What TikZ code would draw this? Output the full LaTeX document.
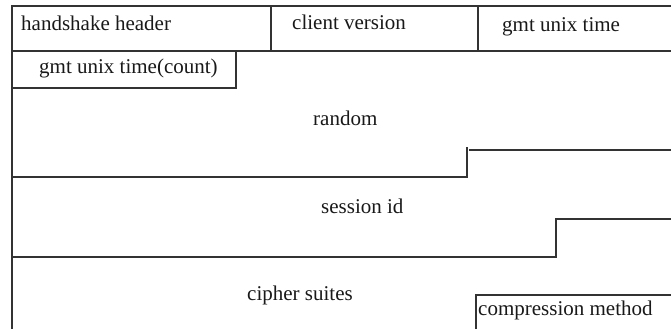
\documentclass[tikz,border=0pt]{standalone}
\usepackage{fontspec}
\setmainfont{Liberation Serif}
\begin{document}
\begin{tikzpicture}[x=1pt,y=-1pt,
  rule/.style={line width=1.3pt,draw=black!80},
  lbl/.style={anchor=base west,inner sep=0pt,font=\fontsize{21}{24}\selectfont,text=black!90}]
\useasboundingbox[fill=white] (0,0) rectangle (671,329);
% frame lines
\draw[rule] (671,6) -- (12,6) -- (12,329);
\draw[rule] (12,51) -- (671,51);
\draw[rule] (271,6) -- (271,51);
\draw[rule] (478,6) -- (478,51);
\draw[rule] (236,51) -- (236,88) -- (12,88);
\draw[rule] (12,177) -- (467,177) -- (467,147);
\draw[rule] (469,150) -- (671,150);
\draw[rule] (12,257) -- (556,257) -- (556,219) -- (671,219);
\draw[rule] (476,329) -- (476,295) -- (671,295);
% labels
\node[lbl] (hh) at (21,31) {handshake header};
\node[lbl] (cv) at (292,30) {client version};
\node[lbl] (gut) at (502,32) {gmt unix time};
\node[lbl] (gutc) at (39,74) {gmt unix time(count)};
\node[lbl] (rnd) at (313,125) {random};
\node[lbl] (sid) at (321,213) {session id};
\node[lbl] (cs) at (247,300) {cipher suites};
\node[lbl] (cm) at (478,315) {compression method};
\end{tikzpicture}
\end{document}
